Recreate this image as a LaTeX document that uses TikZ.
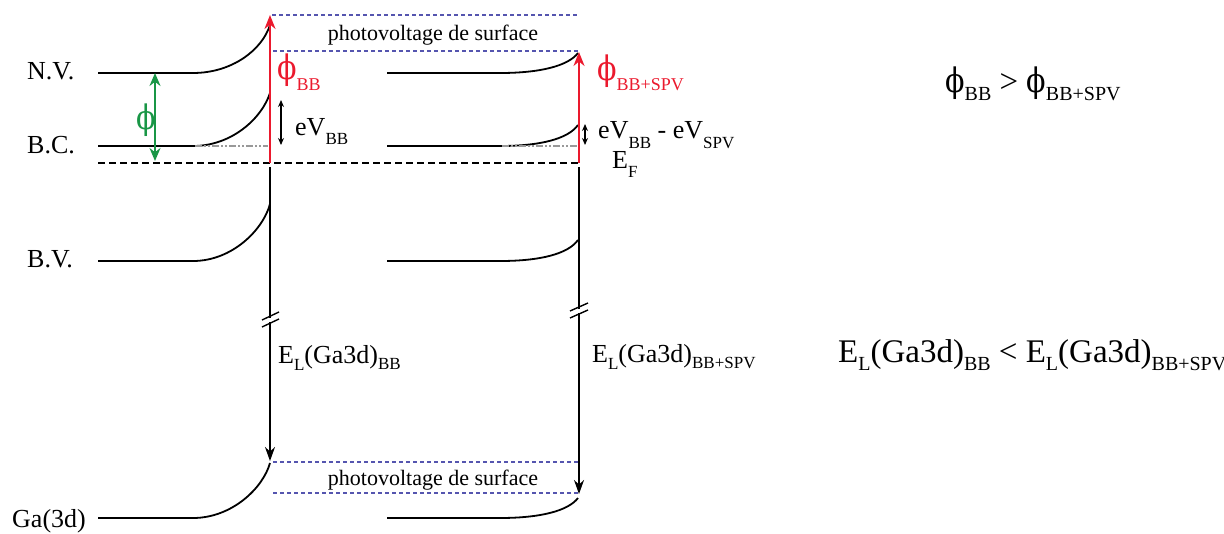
\documentclass[tikz,border=0pt]{standalone}
\usepackage{fontspec}
\setmainfont{Liberation Serif}
\newfontfamily\phifont{DejaVu Serif}
\usetikzlibrary{arrows.meta}
\definecolor{myred}{RGB}{235,25,45}
\definecolor{mygreen}{RGB}{25,150,70}
\definecolor{myblue}{RGB}{85,85,175}
\newcommand\fs[1]{\fontsize{#1}{#1}\selectfont}
\newcommand\lowsub[3]{\raisebox{-#1pt}{\fs{#2}#3}}
\newcommand\phis{\scalebox{1.1}[1.3]{\phifont\fs{26}ϕ}}
\begin{document}
\begin{tikzpicture}[x=1pt,y=-1pt,
  band/.style={line width=1.8pt, black},
  efline/.style={line width=2.2pt, dash pattern=on 7pt off 4pt},
  cont/.style={line width=1.1pt, gray!80, dash pattern=on 7pt off 2pt on 2pt off 2pt on 2pt off 2pt},
  pvline/.style={line width=1.2pt, myblue, dash pattern=on 4pt off 3pt},
  redarrow/.style={line width=2pt, myred, -{Stealth[length=14pt,width=11pt]}},
  blackarrow/.style={line width=1.6pt, black, -{Stealth[length=14pt,width=10pt]}},
  smallarrow/.style={line width=1.3pt, black, {Stealth[length=7pt,width=6pt]}-{Stealth[length=7pt,width=6pt]}},
  greenarrow/.style={line width=1.8pt, mygreen, {Stealth[length=13pt,width=11pt]}-{Stealth[length=13pt,width=11pt]}},
  brk/.style={line width=1.4pt, black},
  lbl/.style={inner sep=0pt, anchor=base west, font=\fs{26}},
  pv/.style={inner sep=0pt, anchor=base, font=\fs{22}},
  big/.style={inner sep=0pt, anchor=base west, font=\fs{33}}]
\useasboundingbox (0,0) rectangle (1224,533);

% ---- coordinates
\coordinate (Ltop) at (270,15);
\coordinate (Lef) at (270,163);
\coordinate (Rtop) at (579,52);
\coordinate (Ref) at (579,163);

% ---- left bands
\draw[band] (98,73) -- (193,73) .. controls (232,73) and (262,50) .. (270,25);
\draw[band] (98,146) -- (193,146) .. controls (232,146) and (262,118) .. (270,93);
\draw[cont] (195,146) -- (268,146);
\draw[band] (98,261) -- (193,261) .. controls (232,261) and (263,230) .. (270,204);
\draw[band] (98,518) -- (193,518) .. controls (232,518) and (263,488) .. (270,463);

% ---- right bands
\draw[band] (387,73) -- (500,73) .. controls (540,73) and (568,66) .. (578,53);
\draw[band] (387,146) -- (500,146) .. controls (540,146) and (568,139) .. (578,125);
\draw[cont] (502,146) -- (577,146);
\draw[band] (387,261) -- (500,261) .. controls (540,261) and (568,254) .. (578,240);
\draw[band] (387,518) -- (500,518) .. controls (540,518) and (568,511) .. (578,498);

% ---- Fermi level
\coordinate (EFa) at (98,163);
\draw[efline] (EFa) -- (Ref);

% ---- photovoltage lines
\coordinate (pa1) at (272,15); \coordinate (pb1) at (578,15);
\coordinate (pa2) at (273,51); \coordinate (pb2) at (579,51);
\coordinate (pa3) at (273,462); \coordinate (pb3) at (580,462);
\coordinate (pa4) at (273,493); \coordinate (pb4) at (578,493);
\draw[pvline] (pa1) -- (pb1);
\draw[pvline] (pa2) -- (pb2);
\draw[pvline] (pa3) -- (pb3);
\draw[pvline] (pa4) -- (pb4);
\node[pv] (pvtop) at (433,40) {photovoltage de surface};
\node[pv] (pvbot) at (433,485) {photovoltage de surface};

% ---- red arrows
\draw[redarrow] (Lef) -- (Ltop);
\draw[redarrow] (Ref) -- (Rtop);

% ---- black vertical lines with breaks
\coordinate (Lv1) at (270,167); \coordinate (Lv2) at (270,318);
\coordinate (Lv3) at (270,322); \coordinate (Lga) at (270,461);
\draw[band, line width=1.6pt] (Lv1) -- (Lv2);
\draw[blackarrow] (Lv3) -- (Lga);
\draw[brk] (262,320) -- (279,312);
\draw[brk] (262,327) -- (279,319);

\coordinate (Rv1) at (579,167); \coordinate (Rv2) at (579,309);
\coordinate (Rv3) at (579,313); \coordinate (Rga) at (579,494);
\draw[band, line width=1.6pt] (Rv1) -- (Rv2);
\draw[blackarrow] (Rv3) -- (Rga);
\draw[brk] (570,311) -- (588,303);
\draw[brk] (570,318) -- (588,310);

% ---- green arrow
\coordinate (gtop) at (155,73); \coordinate (gbot) at (155,161);
\draw[greenarrow] (gtop) -- (gbot);
\node[lbl, mygreen] (phig) at (136,129) {\phis};

% ---- small double arrows
\coordinate (s1a) at (281,100); \coordinate (s1b) at (281,145);
\draw[smallarrow] (s1a) -- (s1b);
\coordinate (s2a) at (585,124); \coordinate (s2b) at (585,145);
\draw[smallarrow] (s2a) -- (s2b);

% ---- labels
\node[lbl] (nv) at (27,79) {N.V.};
\node[lbl] (bc) at (27,153) {B.C.};
\node[lbl] (bv) at (27,267) {B.V.};
\node[lbl] (ga) at (12,527) {Ga(3d)};

\node[lbl, myred] (phibb) at (277,79) {\phis\lowsub{11}{18}{BB}};
\node[lbl] (evbb) at (295,135) {eV\lowsub{9}{17}{BB}};
\node[lbl] (elbb) at (278,363) {E\lowsub{7}{17}{L}(Ga3d)\lowsub{6}{17}{BB}};

\node[lbl, myred] (phispv) at (597,80) {\phis\lowsub{10}{18}{BB+SPV}};
\node[lbl] (evspv) at (598,138) {eV\lowsub{10}{17}{BB} - eV\lowsub{10}{17}{SPV}};
\node[lbl] (ef) at (612,168) {E\lowsub{9}{17}{F}};
\node[lbl] (elspv) at (592,362) {E\lowsub{7}{17}{L}(Ga3d)\lowsub{6}{17}{BB+SPV}};

\node[big] (cmp1) at (945,92) {\phis\lowsub{8}{20}{BB} > \phis\lowsub{8}{20}{BB+SPV}};
\node[big] (cmp2) at (838,362) {E\lowsub{8}{20}{L}(Ga3d)\lowsub{8}{20}{BB} < E\lowsub{8}{20}{L}(Ga3d)\lowsub{8}{20}{BB+SPV}};
\end{tikzpicture}
\end{document}
